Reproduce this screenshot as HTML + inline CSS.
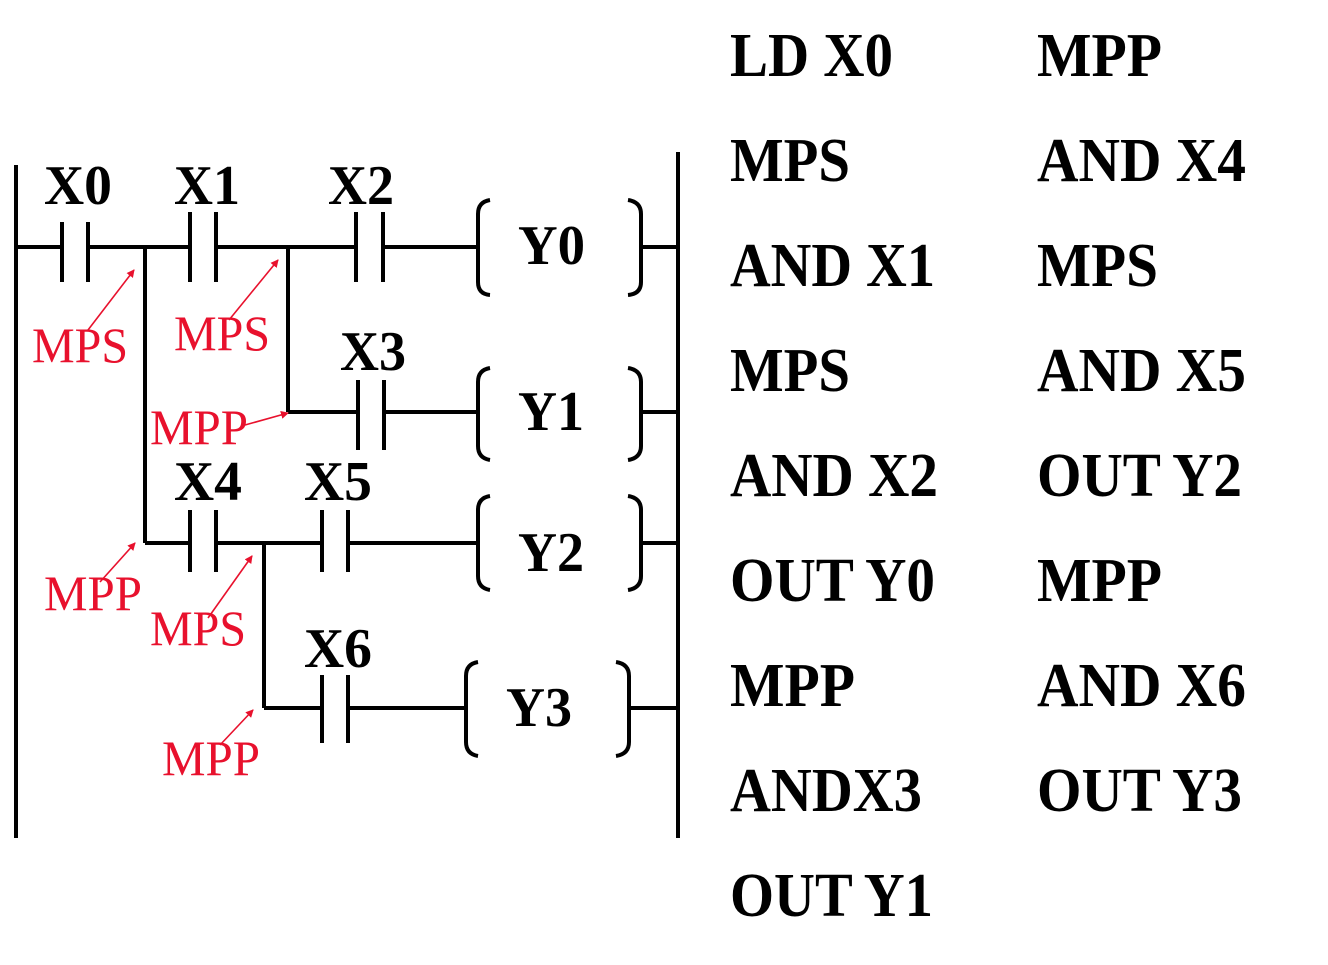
<!DOCTYPE html>
<html><head><meta charset="utf-8"><style>html,body{margin:0;padding:0;background:#fff}svg{display:block}</style></head><body>
<svg width="1328" height="965" viewBox="0 0 1328 965" xmlns="http://www.w3.org/2000/svg">
<defs><marker id="ar" markerWidth="8" markerHeight="8" refX="7" refY="4" orient="auto" markerUnits="userSpaceOnUse"><path d="M0,0 L8,4 L0,8 z" fill="#e8112d"/></marker></defs>
<g stroke="#000" stroke-width="4" fill="none">
<line x1="16" y1="165" x2="16" y2="838"/>
<line x1="678" y1="152" x2="678" y2="838"/>
<!-- rung1 -->
<polyline points="16,247 62,247"/><line x1="62" y1="222" x2="62" y2="282"/><line x1="88" y1="222" x2="88" y2="282"/>
<polyline points="88,247 190,247"/><line x1="190" y1="212" x2="190" y2="282"/><line x1="216" y1="212" x2="216" y2="282"/>
<polyline points="216,247 356,247"/><line x1="356" y1="212" x2="356" y2="282"/><line x1="383" y1="212" x2="383" y2="282"/>
<polyline points="383,247 478,247"/>
<line x1="642" y1="247" x2="678" y2="247"/>
<line x1="145" y1="247" x2="145" y2="543"/>
<line x1="288" y1="247" x2="288" y2="412"/>
<!-- rung2 -->
<line x1="288" y1="412" x2="358" y2="412"/><line x1="358" y1="380" x2="358" y2="450"/><line x1="384" y1="380" x2="384" y2="450"/>
<line x1="384" y1="412" x2="478" y2="412"/><line x1="642" y1="412" x2="678" y2="412"/>
<!-- rung3 -->
<line x1="145" y1="543" x2="190" y2="543"/><line x1="190" y1="510" x2="190" y2="572"/><line x1="216" y1="510" x2="216" y2="572"/>
<line x1="216" y1="543" x2="322" y2="543"/><line x1="322" y1="510" x2="322" y2="572"/><line x1="348" y1="510" x2="348" y2="572"/>
<line x1="348" y1="543" x2="478" y2="543"/><line x1="642" y1="543" x2="678" y2="543"/>
<line x1="264" y1="543" x2="264" y2="708"/>
<!-- rung4 -->
<line x1="264" y1="708" x2="322" y2="708"/><line x1="322" y1="675" x2="322" y2="743"/><line x1="348" y1="675" x2="348" y2="743"/>
<line x1="348" y1="708" x2="466" y2="708"/><line x1="630" y1="708" x2="678" y2="708"/>
<!-- coils -->
<path d="M490,200 Q478,202 478,214 L478,282 Q478,294 490,295"/><path d="M628,200 Q641,202 641,214 L641,282 Q641,294 628,295"/>
<path d="M490,368 Q478,370 478,382 L478,446 Q478,458 490,460"/><path d="M628,368 Q641,370 641,382 L641,446 Q641,458 628,460"/>
<path d="M490,496 Q478,498 478,510 L478,576 Q478,588 490,590"/><path d="M628,496 Q641,498 641,510 L641,576 Q641,588 628,590"/>
<path d="M478,662 Q466,664 466,676 L466,742 Q466,754 478,756"/><path d="M616,662 Q629,664 629,676 L629,742 Q629,754 616,756"/>
</g>
<g font-family="Liberation Serif, serif" font-weight="bold" font-size="56" fill="#000">
<text x="44" y="204" textLength="68" lengthAdjust="spacingAndGlyphs">X0</text>
<text x="174" y="204" textLength="66" lengthAdjust="spacingAndGlyphs">X1</text>
<text x="328" y="204" textLength="66" lengthAdjust="spacingAndGlyphs">X2</text>
<text x="340" y="370" textLength="66" lengthAdjust="spacingAndGlyphs">X3</text>
<text x="174" y="500" textLength="68" lengthAdjust="spacingAndGlyphs">X4</text>
<text x="304" y="500" textLength="68" lengthAdjust="spacingAndGlyphs">X5</text>
<text x="304" y="667" textLength="68" lengthAdjust="spacingAndGlyphs">X6</text>
<text x="518" y="264" textLength="67" lengthAdjust="spacingAndGlyphs">Y0</text>
<text x="518" y="430" textLength="66" lengthAdjust="spacingAndGlyphs">Y1</text>
<text x="518" y="571" textLength="66" lengthAdjust="spacingAndGlyphs">Y2</text>
<text x="506" y="726" textLength="66" lengthAdjust="spacingAndGlyphs">Y3</text>
</g>
<g font-family="Liberation Serif, serif" font-size="50" fill="#e8112d">
<text x="32" y="362" textLength="96" lengthAdjust="spacingAndGlyphs">MPS</text>
<text x="174" y="350" textLength="96" lengthAdjust="spacingAndGlyphs">MPS</text>
<text x="150" y="444" textLength="98" lengthAdjust="spacingAndGlyphs">MPP</text>
<text x="44" y="610" textLength="98" lengthAdjust="spacingAndGlyphs">MPP</text>
<text x="150" y="645" textLength="96" lengthAdjust="spacingAndGlyphs">MPS</text>
<text x="162" y="775" textLength="98" lengthAdjust="spacingAndGlyphs">MPP</text>
</g>
<g stroke="#e8112d" stroke-width="1.6" marker-end="url(#ar)">
<line x1="88" y1="330" x2="134" y2="270"/>
<line x1="229" y1="320" x2="278" y2="260"/>
<line x1="245" y1="425" x2="288" y2="413"/>
<line x1="100" y1="582" x2="135" y2="543"/>
<line x1="208" y1="618" x2="252" y2="556"/>
<line x1="220" y1="745" x2="253" y2="710"/>
</g>
<g font-family="Liberation Serif, serif" font-weight="bold" font-size="62" fill="#000">
<text x="730" y="76" textLength="163" lengthAdjust="spacingAndGlyphs">LD X0</text>
<text x="730" y="181" textLength="120" lengthAdjust="spacingAndGlyphs">MPS</text>
<text x="730" y="286" textLength="205" lengthAdjust="spacingAndGlyphs">AND X1</text>
<text x="730" y="391" textLength="120" lengthAdjust="spacingAndGlyphs">MPS</text>
<text x="730" y="496" textLength="208" lengthAdjust="spacingAndGlyphs">AND X2</text>
<text x="730" y="601" textLength="205" lengthAdjust="spacingAndGlyphs">OUT Y0</text>
<text x="730" y="706" textLength="125" lengthAdjust="spacingAndGlyphs">MPP</text>
<text x="730" y="811" textLength="192" lengthAdjust="spacingAndGlyphs">ANDX3</text>
<text x="730" y="916" textLength="203" lengthAdjust="spacingAndGlyphs">OUT Y1</text>
<text x="1037" y="76" textLength="125" lengthAdjust="spacingAndGlyphs">MPP</text>
<text x="1037" y="181" textLength="209" lengthAdjust="spacingAndGlyphs">AND X4</text>
<text x="1037" y="286" textLength="121" lengthAdjust="spacingAndGlyphs">MPS</text>
<text x="1037" y="391" textLength="209" lengthAdjust="spacingAndGlyphs">AND X5</text>
<text x="1037" y="496" textLength="205" lengthAdjust="spacingAndGlyphs">OUT Y2</text>
<text x="1037" y="601" textLength="125" lengthAdjust="spacingAndGlyphs">MPP</text>
<text x="1037" y="706" textLength="209" lengthAdjust="spacingAndGlyphs">AND X6</text>
<text x="1037" y="811" textLength="205" lengthAdjust="spacingAndGlyphs">OUT Y3</text>
</g>
</svg>
</body></html>
